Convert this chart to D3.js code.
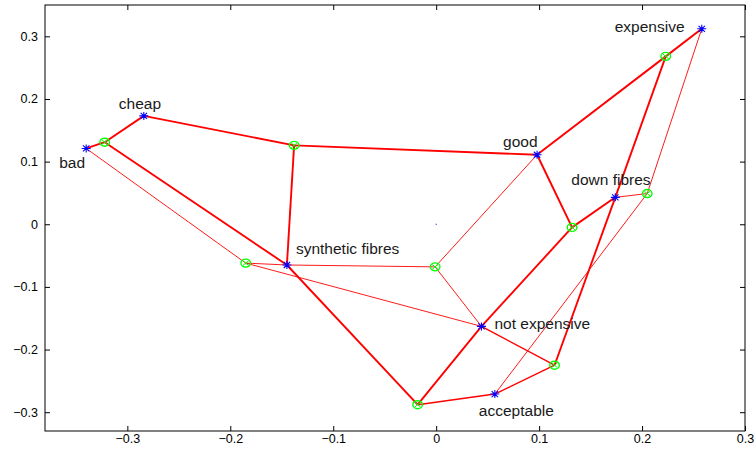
<!DOCTYPE html>
<html><head><meta charset="utf-8">
<script src="https://cdn.jsdelivr.net/npm/d3@7"></script>
<style>body{margin:0;background:#fff}svg{display:block}</style>
</head><body><svg id="c" width="756" height="452"></svg>
<script>
// ---- data ----
const attributes = ["bad","cheap","synthetic fibres","good","down fibres","expensive","not expensive","acceptable"];
const attrX = [-0.340,-0.284,-0.145,0.098,0.174,0.258,0.044,0.057];
const attrY = [0.121,0.173,-0.065,0.111,0.043,0.312,-0.163,-0.271];
const objX = [-0.322,-0.138,-0.185,-0.001,0.132,0.205,0.223,0.115,-0.018];
const objY = [0.131,0.126,-0.062,-0.068,-0.005,0.049,0.268,-0.225,-0.288];
// [attribute index, object index, weight]
const edges = [
  [0,0,2],[0,2,1],
  [1,0,2],[1,1,2],
  [2,0,2],[2,1,2],[2,8,2],[2,2,1],[2,3,1],
  [3,1,2],[3,4,2],[3,6,2],[3,3,1],
  [4,4,2],[4,6,2],[4,7,2],[4,5,1],
  [5,6,2],[5,5,1],
  [6,8,2],[6,4,2],[6,7,1.5],[6,2,1],[6,3,1],
  [7,8,1.5],[7,7,1.5],[7,5,1]
];
const originX = [0];
const originY = [0];
const xTicks = [-0.3,-0.2,-0.1,0,0.1,0.2,0.3];
const yTicks = [-0.3,-0.2,-0.1,0,0.1,0.2,0.3];
const xDomain = [-0.38,0.30];
const yDomain = [-0.33,0.35];

// ---- layout (label offsets in px relative to point) ----
const labelOffsets = [[-27,14],[-25,-12],[9,-16],[-34,-13],[-44,-18],[-87,-2],[13,-3],[-16,17]];

const svg = d3.select("#c");
const L=45,R=745,T=5,B=431;
const x = d3.scaleLinear().domain(xDomain).range([L,R]);
const y = d3.scaleLinear().domain(yDomain).range([B,T]);
const font = "'Liberation Sans', Arial, Helvetica, sans-serif";
const fmt = v => v===0 ? "0" : d3.format(".1f")(v);

svg.append("rect").attr("x",0).attr("y",0).attr("width",756).attr("height",452).attr("fill","#fff");

// axes
const gx = svg.append("g").attr("transform",`translate(0,${B})`)
  .call(d3.axisBottom(x).tickValues(xTicks).tickSize(-5).tickSizeOuter(0).tickPadding(3).tickFormat(fmt));
const gxt = svg.append("g").attr("transform",`translate(0,${T})`)
  .call(d3.axisTop(x).tickValues(xTicks).tickSize(-5).tickSizeOuter(0).tickFormat(""));
const gy = svg.append("g").attr("transform",`translate(${L},0)`)
  .call(d3.axisLeft(y).tickValues(yTicks).tickSize(-5).tickSizeOuter(0).tickPadding(7).tickFormat(fmt));
const gyr = svg.append("g").attr("transform",`translate(${R},0)`)
  .call(d3.axisRight(y).tickValues(yTicks).tickSize(-5).tickSizeOuter(0).tickFormat(""));
[gx,gxt,gy,gyr].forEach(g=>{
  g.select(".domain").remove();
  g.selectAll(".tick line").attr("stroke","#000");
  g.selectAll("text").attr("font-family",font).attr("font-size",12.5).attr("fill","#000");
});
svg.append("rect").attr("x",L).attr("y",T).attr("width",R-L).attr("height",B-T)
  .attr("fill","none").attr("stroke","#000").attr("stroke-width",1);

// edges
const wScale = d3.scaleLinear().domain([1,2]).range([0.9,1.9]);
svg.append("g").selectAll("line").data(edges).join("line")
  .attr("x1",d=>x(attrX[d[0]])).attr("y1",d=>y(attrY[d[0]]))
  .attr("x2",d=>x(objX[d[1]])).attr("y2",d=>y(objY[d[1]]))
  .attr("stroke","#ff0000").attr("stroke-width",d=>wScale(d[2]));

// object markers (circle with x)
const og = svg.append("g").selectAll("g").data(objX.map((v,i)=>[v,objY[i]])).join("g")
  .attr("transform",d=>`translate(${x(d[0])},${y(d[1])})`);
og.append("ellipse").attr("rx",4.8).attr("ry",4).attr("fill","none").attr("stroke","#00ff00").attr("stroke-width",1.4);
og.append("path").attr("d","M-3,-2.5L3,2.5M-3,2.5L3,-2.5").attr("stroke","#00ff00").attr("stroke-width",1);

// attribute markers (asterisk)
svg.append("g").selectAll("path").data(attributes.map((n,i)=>[attrX[i],attrY[i]])).join("path")
  .attr("transform",d=>`translate(${x(d[0])},${y(d[1])})`)
  .attr("d","M-4.5,0H4.5M0,-4V4M-3.2,-3L3.2,3M-3.2,3L3.2,-3")
  .attr("stroke","#0000ff").attr("stroke-width",1.1).attr("fill","none");

// origin dot
svg.append("g").selectAll("rect").data(originX.map((v,i)=>[v,originY[i]])).join("rect")
  .attr("x",d=>x(d[0])-0.5).attr("y",d=>y(d[1])-0.5).attr("width",1).attr("height",1).attr("fill","#0000ff");

// labels
svg.append("g").selectAll("text").data(attributes).join("text")
  .attr("x",(d,i)=>x(attrX[i])+labelOffsets[i][0])
  .attr("y",(d,i)=>y(attrY[i])+labelOffsets[i][1])
  .attr("dy","0.35em")
  .attr("font-family",font).attr("font-size",15.5).attr("fill","#1a1a1a")
  .text(d=>d);
</script>
</body></html>
